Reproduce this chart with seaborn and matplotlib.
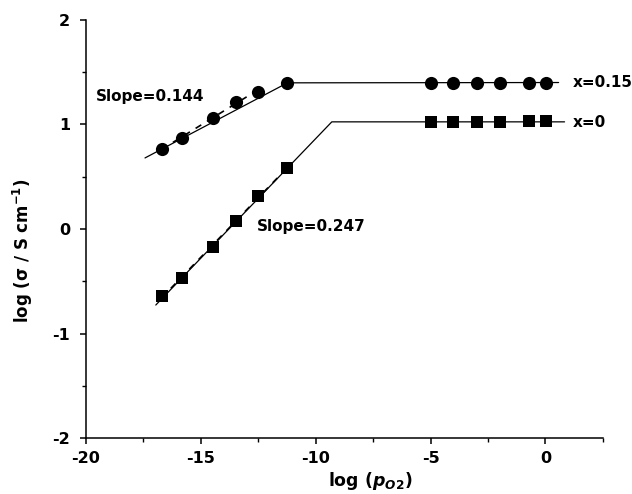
import matplotlib
matplotlib.use("Agg")
import matplotlib.pyplot as plt
from matplotlib.ticker import MultipleLocator
import seaborn as sns
import pandas as pd

# log(pO2) values shared by both compositions
log_po2 = [-16.71, -15.81, -14.47, -13.48, -12.53, -11.23,
           -5.0, -4.04, -3.0, -2.0, -0.70, 0.04]

# log(sigma) for x = 0.15 (circles) and x = 0 (squares)
log_sigma_x015 = [0.763, 0.874, 1.065, 1.218, 1.314, 1.394,
                  1.40, 1.40, 1.40, 1.40, 1.40, 1.40]
log_sigma_x0 = [-0.641, -0.466, -0.175, 0.077, 0.316, 0.581,
                1.02, 1.02, 1.02, 1.02, 1.03, 1.03]

# guide lines: sloped region, break point, plateau
fit_x015_x = [-17.43, -11.23, 0.57]
fit_x015_y = [0.679, 1.397, 1.40]
fit_x0_x = [-16.96, -9.30, 0.83]
fit_x0_y = [-0.727, 1.024, 1.024]

# number of leading points used for the dashed least-squares lines
n_reg_x015 = 5
n_reg_x0 = 6

series_labels = ["x=0.15", "x=0"]
slope_labels = ["Slope=0.144", "Slope=0.247"]

sns.set_theme(style="ticks")
plt.rcParams["font.family"] = ["DejaVu Sans"]
plt.rcParams["font.weight"] = "bold"
plt.rcParams["text.color"] = "black"
plt.rcParams["axes.labelcolor"] = "black"
plt.rcParams["axes.unicode_minus"] = False
plt.rcParams["mathtext.fontset"] = "custom"
plt.rcParams["mathtext.rm"] = "DejaVu Sans:bold"
plt.rcParams["mathtext.it"] = "DejaVu Sans:bold:italic"
plt.rcParams["mathtext.bf"] = "DejaVu Sans:bold"

fig = plt.figure(figsize=(6.32, 4.94), dpi=100)
ax = fig.add_axes([0.136, 0.113, 0.818, 0.847])

fits = pd.DataFrame({
    "x": fit_x015_x + fit_x0_x,
    "y": fit_x015_y + fit_x0_y,
    "series": [series_labels[0]] * 3 + [series_labels[1]] * 3,
})
circ = pd.DataFrame({"x": log_po2, "y": log_sigma_x015})
sq = pd.DataFrame({"x": log_po2, "y": log_sigma_x0})

sns.lineplot(data=fits, x="x", y="y", units="series", estimator=None, sort=False,
             color="black", linewidth=0.9, ax=ax, legend=False)

# dashed least-squares lines through the sloped points
for df, n in ((circ, n_reg_x015), (sq, n_reg_x0)):
    sns.regplot(data=df.iloc[:n], x="x", y="y", scatter=False, ci=None,
                truncate=True, color="black", ax=ax,
                line_kws={"linestyle": (0, (4, 4)), "linewidth": 1.2})

sns.scatterplot(data=circ, x="x", y="y", marker="o", s=90, color="black",
                linewidth=0, ax=ax, legend=False, zorder=3)
sns.scatterplot(data=sq, x="x", y="y", marker="s", s=66, color="black",
                linewidth=0, ax=ax, legend=False, zorder=3)

ax.set_xlim(-20, 2.5)
ax.set_ylim(-2, 2)
ax.xaxis.set_major_locator(MultipleLocator(5))
ax.xaxis.set_minor_locator(MultipleLocator(2.5))
ax.yaxis.set_major_locator(MultipleLocator(1))
ax.yaxis.set_minor_locator(MultipleLocator(0.5))
ax.tick_params(which="major", direction="out", length=4.5, width=1.1,
               labelsize=11.5, color="black", labelcolor="black")
ax.tick_params(which="minor", direction="out", length=3, width=1.0, color="black")
ax.tick_params(axis="x", which="major", pad=4.5)
ax.tick_params(axis="y", which="major", pad=7)
for lab in ax.get_xticklabels() + ax.get_yticklabels():
    lab.set_fontweight("bold")
for s in ["left", "bottom"]:
    ax.spines[s].set_linewidth(1.1)
    ax.spines[s].set_color("black")
sns.despine(ax=ax)

ax.set_xlabel(r"log ($p_{O2}$)", fontsize=12.5, fontweight="bold", color="black")
ax.set_ylabel("log (σ / S cm$^{-1}$)", fontsize=12, fontweight="bold", color="black")
ax.xaxis.set_label_coords(0.549, -0.076)
ax.yaxis.set_label_coords(-0.099, 0.447)

ax.text(-19.57, 1.263, slope_labels[0], fontsize=11, fontweight="bold",
        va="center", color="black")
ax.text(-12.57, 0.02, slope_labels[1], fontsize=11, fontweight="bold",
        va="center", color="black")
ax.text(1.17, 1.40, series_labels[0], fontsize=11, fontweight="bold", va="center",
        color="black", clip_on=False)
ax.text(1.17, 1.02, series_labels[1], fontsize=11, fontweight="bold", va="center",
        color="black", clip_on=False)

fig.savefig("out.png", dpi=100)
